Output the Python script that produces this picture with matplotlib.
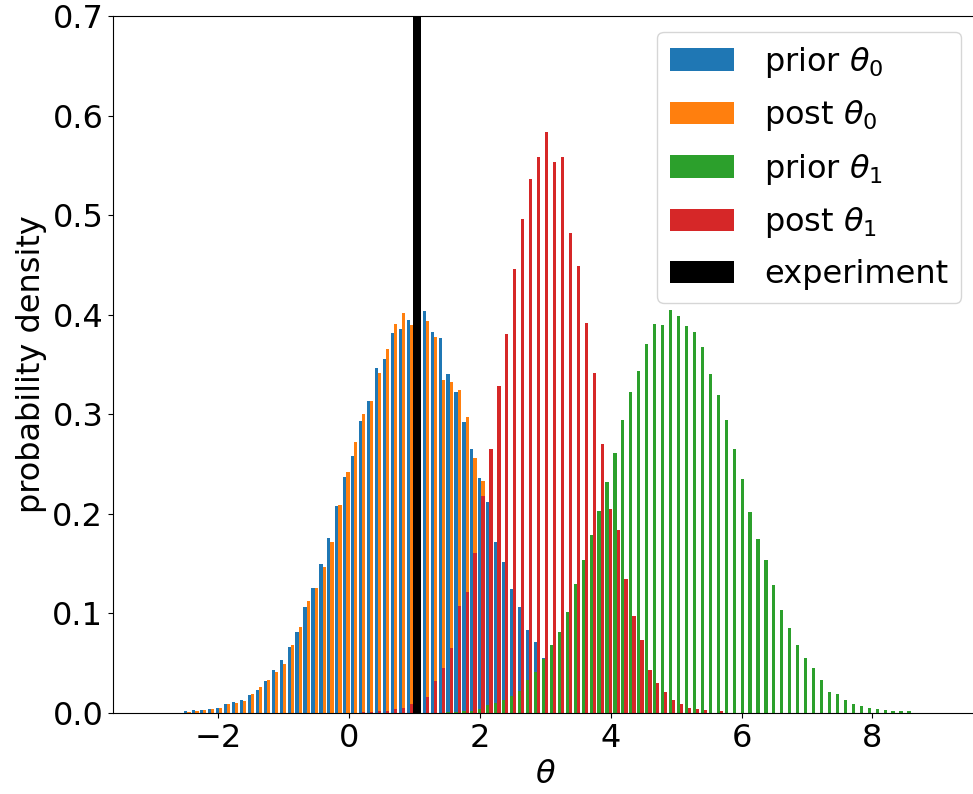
import numpy as np
import matplotlib.pyplot as plt

# shared histogram bins
bin_start = -2.533
bin_width = 0.1215

prior_theta0 = [
    0.002, 0.003, 0.0035, 0.0045, 0.0055, 0.009, 0.011, 0.0134, 0.018, 0.0228,
    0.032, 0.0435, 0.053, 0.0666, 0.0817, 0.106, 0.1259, 0.150, 0.1757, 0.208,
    0.237, 0.258, 0.2936, 0.3133, 0.3468, 0.3552, 0.3813, 0.3853, 0.3947, 0.400,
    0.404, 0.383, 0.377, 0.340, 0.322, 0.292, 0.265, 0.236, 0.2116, 0.1716,
    0.152, 0.125, 0.106, 0.083, 0.071, 0.055, 0.042, 0.032, 0.024, 0.017,
    0.012, 0.008, 0.005, 0.003, 0.002, 0.001, 0.0, 0.0, 0.0, 0.0,
    0.0, 0.0, 0.0, 0.0, 0.0, 0.0, 0.0, 0.0, 0.0, 0.0,
    0.0, 0.0, 0.0, 0.0, 0.0, 0.0, 0.0, 0.0, 0.0, 0.0,
    0.0, 0.0, 0.0, 0.0, 0.0, 0.0, 0.0, 0.0, 0.0, 0.0,
    0.0, 0.0,
]
post_theta0 = [
    0.0015, 0.002, 0.003, 0.0045, 0.0055, 0.009, 0.010, 0.012, 0.019, 0.026,
    0.033, 0.041, 0.049, 0.0686, 0.0864, 0.1128, 0.126, 0.147, 0.172, 0.2086,
    0.2416, 0.2726, 0.300, 0.3133, 0.341, 0.3654, 0.3907, 0.4014, 0.3897, 0.395,
    0.394, 0.378, 0.334, 0.332, 0.324, 0.297, 0.256, 0.233, 0.200, 0.175,
    0.150, 0.125, 0.100, 0.085, 0.068, 0.054, 0.042, 0.031, 0.023, 0.016,
    0.011, 0.007, 0.005, 0.003, 0.002, 0.001, 0.0, 0.0, 0.0, 0.0,
    0.0, 0.0, 0.0, 0.0, 0.0, 0.0, 0.0, 0.0, 0.0, 0.0,
    0.0, 0.0, 0.0, 0.0, 0.0, 0.0, 0.0, 0.0, 0.0, 0.0,
    0.0, 0.0, 0.0, 0.0, 0.0, 0.0, 0.0, 0.0, 0.0, 0.0,
    0.0, 0.0,
]
prior_theta1 = [
    0.0, 0.0, 0.0, 0.0, 0.0, 0.0, 0.0, 0.0, 0.0, 0.0,
    0.0, 0.0, 0.0, 0.0, 0.0, 0.0, 0.0, 0.0, 0.0, 0.0,
    0.0, 0.0, 0.0, 0.0, 0.0, 0.0, 0.0, 0.0, 0.0, 0.0,
    0.0, 0.0, 0.0, 0.001, 0.0015, 0.002, 0.002, 0.004, 0.008, 0.010,
    0.0127, 0.017, 0.022, 0.033, 0.0415, 0.0546, 0.0685, 0.0817, 0.101, 0.130,
    0.154, 0.179, 0.203, 0.232, 0.261, 0.2946, 0.3224, 0.3435, 0.371, 0.3907,
    0.390, 0.4048, 0.399, 0.3887, 0.3827, 0.3676, 0.340, 0.319, 0.2946, 0.2655,
    0.2353, 0.2019, 0.175, 0.154, 0.129, 0.1034, 0.085, 0.0686, 0.0549, 0.0455,
    0.0331, 0.0214, 0.0191, 0.013, 0.0087, 0.0074, 0.0054, 0.004, 0.0027, 0.0017,
    0.0017, 0.0017,
]
post_theta1 = [
    0.0, 0.0, 0.0, 0.0, 0.0, 0.0, 0.0, 0.0, 0.0, 0.0,
    0.0, 0.0, 0.0, 0.0, 0.0, 0.0, 0.0, 0.0, 0.0, 0.0,
    0.0, 0.0, 0.001, 0.0015, 0.002, 0.002, 0.004, 0.005, 0.009, 0.012,
    0.0165, 0.032, 0.045, 0.065, 0.107, 0.1216, 0.161, 0.218, 0.265, 0.328,
    0.381, 0.4455, 0.496, 0.536, 0.558, 0.584, 0.553, 0.558, 0.482, 0.449,
    0.392, 0.341, 0.270, 0.205, 0.1838, 0.135, 0.0975, 0.0733, 0.0432, 0.0305,
    0.0214, 0.013, 0.0087, 0.0054, 0.004, 0.0027, 0.0005, 0.0017, 0.0, 0.0,
    0.0, 0.0, 0.0, 0.0, 0.0, 0.0, 0.0, 0.0, 0.0, 0.0,
    0.0, 0.0, 0.0, 0.0, 0.0, 0.0, 0.0, 0.0, 0.0, 0.0,
    0.0, 0.0,
]
experiment = (0.983, 1.105)   # observed theta band

n_bins = len(prior_theta0)
edges = bin_start + bin_width * np.arange(n_bins + 1)
centers = edges[:-1] + bin_width / 2

plt.rcParams['font.size'] = 23

fig = plt.figure(figsize=(9.73, 7.94), dpi=100)
# right edge of the axes sits just past the picture, as in the original crop
ax = fig.add_axes([113 / 973, 1 - 713 / 794, (977 - 113) / 973, (713 - 16) / 794])

ax.hist([centers, centers], bins=edges, weights=[prior_theta0, post_theta0],
        color=['#1f77b4', '#ff7f0e'], label=[r'prior $\theta_0$', r'post $\theta_0$'])
ax.hist([centers, centers], bins=edges, weights=[prior_theta1, post_theta1],
        color=['#2ca02c', '#d62728'], label=[r'prior $\theta_1$', r'post $\theta_1$'])
ax.axvspan(experiment[0], experiment[1], color='k', lw=0, label='experiment')

ax.set_xlim(-3.61, 9.60)
ax.set_ylim(0, 0.7)
ax.set_xlabel(r'$\theta$')
ax.set_ylabel('probability density')
ax.legend(loc='upper right', labelspacing=0.58, handletextpad=0.95)

fig.savefig('out.png', dpi=100)
